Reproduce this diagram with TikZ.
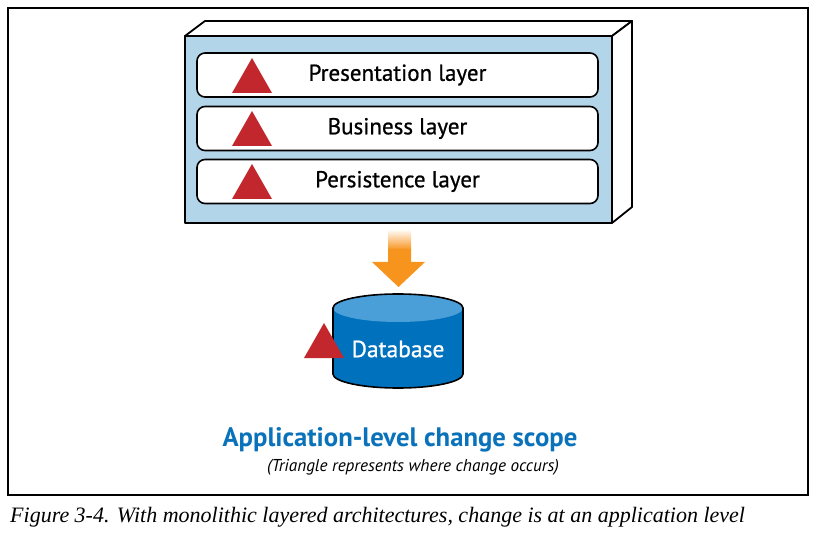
\documentclass[tikz,border=0pt]{standalone}
\usepackage{fontspec}
\setmainfont{Liberation Serif}
\newfontfamily\cond{PT Sans}
\newfontfamily\condmed[FakeBold=0.8]{PT Sans}
\usetikzlibrary{shapes.geometric}
\definecolor{boxblue}{HTML}{B3D5EA}
\definecolor{trired}{HTML}{C1272D}
\definecolor{arrorange}{HTML}{F7941D}
\definecolor{dbdark}{HTML}{0071BC}
\definecolor{dblight}{HTML}{4A9FD8}
\definecolor{titleblue}{HTML}{0A72BA}
\tikzset{
  layer/.style={draw=black, line width=1.6pt, fill=white, rounded corners=8pt,
    minimum width=401pt, minimum height=44pt, inner sep=0pt,
    font=\condmed\fontsize{23}{25}\selectfont},
  tri/.style={fill=trired},
  boxline/.style={draw=black, line width=1.8pt, line join=round},
}
\begin{document}
\begin{tikzpicture}[x=1pt,y=1pt]
\useasboundingbox (0,0) rectangle (818,-534);
% outer frame
\draw[line width=1.3pt] (8,-8) rectangle (808,-495);
% 3D box
\path[boxline, fill=white] (185,-36) -- (205,-21) -- (632,-21) -- (612,-36) -- cycle;
\path[boxline, fill=white] (612,-36) -- (632,-21) -- (632,-207) -- (612,-223) -- cycle;
\path[boxline, fill=boxblue] (185,-36) rectangle (612,-223);
% layers
\node[layer] (pres) at (397.5,-75) {Presentation layer};
\node[layer] (bus) at (397.5,-128.5) {Business layer};
\node[layer] (pers) at (397.5,-181.5) {Persistence layer};
\fill[tri] (252,-58) -- (272,-93) -- (232,-93) -- cycle;
\fill[tri] (252,-111) -- (272,-146) -- (232,-146) -- cycle;
\fill[tri] (252,-164) -- (272,-199) -- (232,-199) -- cycle;
% arrow
\shade[top color=white, bottom color=arrorange] (388,-229) rectangle (411,-250);
\fill[arrorange] (388,-249) -- (411,-249) -- (411,-262) -- (425,-262) -- (398.5,-287) -- (372,-262) -- (388,-262) -- cycle;
% database
\fill[dbdark] (333,-308) -- (333,-374) arc[start angle=180,end angle=360,x radius=65pt,y radius=14pt] -- (463,-308) -- cycle;
\fill[dblight] (398,-308) ellipse [x radius=65pt, y radius=14pt];
\draw[line width=1.6pt] (463,-308) arc[start angle=0,end angle=180,x radius=65pt,y radius=14pt] -- (333,-374) arc[start angle=180,end angle=360,x radius=65pt,y radius=14pt] -- cycle;
\node[font=\condmed\fontsize{23.5}{25}\selectfont, text=white] (db) at (398,-349) {Database};
\fill[tri] (324,-323) -- (344,-358) -- (304,-358) -- cycle;
% titles
\node[font=\cond\bfseries\fontsize{26.7}{30}\selectfont, text=titleblue] (title) at (400,-440) {Application-level change scope};
\node[font=\cond\itshape\fontsize{17.2}{20}\selectfont] (sub) at (413,-467) {(Triangle represents where change occurs)};
% caption
\node[anchor=west, font=\itshape\fontsize{22}{24}\selectfont, inner sep=0pt] (cap) at (10,-517) {Figure 3-4. With monolithic layered architectures, change is at an application level};
\end{tikzpicture}
\end{document}
